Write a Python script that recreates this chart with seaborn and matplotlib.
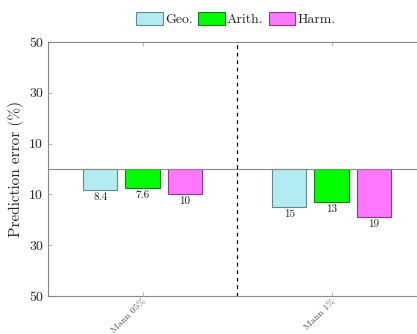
import matplotlib
matplotlib.use("Agg")
import matplotlib.pyplot as plt
import seaborn as sns
import pandas as pd

# Data
categories = ["Mann 05%", "Mann 1%"]
methods = ["Geo.", "Arith.", "Harm."]
geo = [8.4, 15]
arith = [7.6, 13]
harm = [10, 19]
y_ticks = [-50, -30, -10, 10, 30, 50]

colors = ["#b3ebf2", "#00ff00", "#ff77ff"]
edges = ["#5f8a90", "#1a7a1a", "#8a3a8a"]

rows = []
for m, vals in zip(methods, [geo, arith, harm]):
    for c, v in zip(categories, vals):
        rows.append({"category": c, "method": m, "error": -v})
df = pd.DataFrame(rows)

sns.set_style("white")
plt.rcParams["font.family"] = ["cmr10", "DejaVu Serif"]
plt.rcParams["mathtext.fontset"] = "cm"
plt.rcParams["axes.unicode_minus"] = False

fig = plt.figure(figsize=(4.17, 3.34), dpi=100)
ax = fig.add_axes([48 / 417, 38 / 334, 378 / 417, 254 / 334])

sns.barplot(data=df, x="category", y="error", hue="method",
            hue_order=methods, order=categories, palette=colors,
            width=0.667, gap=0.19, ax=ax, legend=True, errorbar=None,
            linewidth=0.8, saturation=1)

for cont, ec, vals in zip(ax.containers, edges, [geo, arith, harm]):
    for p in cont:
        p.set_edgecolor(ec)
    ax.bar_label(cont, labels=[f"{v:g}" for v in vals], padding=1.5,
                 fontsize=8, color="#222222")

ax.set_xlim(-0.5, 1.5)
ax.set_ylim(-50, 50)
ax.set_yticks(y_ticks)
ax.set_yticklabels([f"{abs(t)}" for t in y_ticks])
ax.axhline(0, color="#888888", lw=0.8)
ax.axvline(0.5, color="black", lw=0.9, ls=(0, (3, 3)))

ax.set_xlabel("")
ax.set_ylabel("Prediction error (%)", fontsize=11)
plt.setp(ax.get_xticklabels(), rotation=45, ha="right",
         rotation_mode="anchor", fontsize=7, color="#555555")
ax.tick_params(axis="x", direction="in", length=3, color="#bbbbbb",
               top=True, bottom=True, pad=1)
ax.tick_params(axis="y", direction="in", length=3, color="#bbbbbb",
               labelsize=10, left=True)

for s in ["left", "top", "bottom", "right"]:
    ax.spines[s].set_color("#888888")
    ax.spines[s].set_linewidth(0.8)

leg = ax.legend(loc="lower center", bbox_to_anchor=((236 - 48) / 378, 1.04),
                ncol=3, frameon=False, fontsize=10, handlelength=1.9,
                handleheight=1.0, handletextpad=0.15, columnspacing=0.4,
                borderaxespad=0)
for h, ec in zip(leg.legend_handles, edges):
    h.set_edgecolor(ec)

fig.savefig("out.png", dpi=100)
